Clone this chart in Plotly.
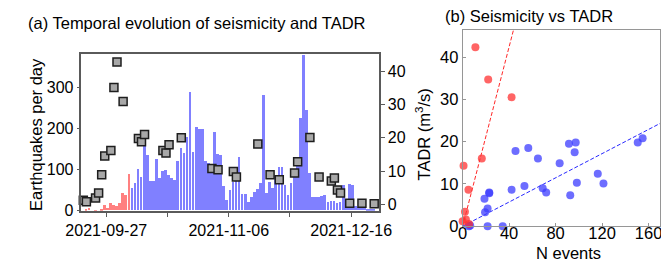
import pandas as pd
import plotly.graph_objects as go

# ---------------- data: panel (a) ----------------
red_days = pd.date_range("2021-09-20", "2021-10-04", freq="D")
red_counts = [4, 5, 0, 1, 0, 3, 13, 6, 19, 14, 11, 17, 43, 38, 89]

blue_days = pd.date_range("2021-10-05", "2021-12-23", freq="D")
blue_counts = [55, 67, 100, 82, 156, 136, 71, 71, 126, 80, 97, 99, 86, 80, 75, 121, 152, 141, 180, 289,
               143, 203, 199, 199, 120, 116, 112, 192, 137, 136, 59, 25, 49, 70, 100, 130, 39, 39, 20, 33,
               45, 52, 68, 282, 43, 70, 55, 87, 106, 106, 63, 38, 67, 87, 110, 224, 379, 245, 90, 33,
               33, 33, 35, 38, 20, 24, 22, 17, 20, 63, 16, 64, 63, 12, 8, 6, 5, 4, 3, 2]

tadr_dates = ["2021-09-19", "2021-09-20", "2021-09-23", "2021-09-24", "2021-09-25", "2021-09-26",
              "2021-09-28", "2021-09-29", "2021-09-30", "2021-10-02", "2021-10-07", "2021-10-08",
              "2021-10-09", "2021-10-15", "2021-10-16", "2021-10-17", "2021-10-21", "2021-10-31",
              "2021-11-02", "2021-11-07", "2021-11-08", "2021-11-15", "2021-11-19", "2021-11-22",
              "2021-11-27", "2021-11-28", "2021-12-02", "2021-12-05", "2021-12-09", "2021-12-10",
              "2021-12-11", "2021-12-12", "2021-12-15", "2021-12-19", "2021-12-23"]
tadr_values = [1.2, 0.8, 1.9, 3.4, 8.9, 14.5, 16.2, 35.1, 42.8, 30.9, 19.8, 18.8,
               21.0, 16.2, 15.4, 17.9, 20.0, 10.8, 10.4, 9.9, 8.2, 18.1, 8.9, 7.4,
               9.4, 12.8, 20.1, 8.2, 7.0, 7.9, 4.3, 3.4, 0.3, 0.3, 0.2]

date_ticks = ["2021-09-27", "2021-11-06", "2021-12-16"]
date_minor_ticks = ["2021-10-17", "2021-11-26"]

# ---------------- data: panel (b) ----------------
red_n = [0.8, 5, 2, 2.8, 0, 5.5, 16.5, 11, 22, 42.1]
red_tadr = [14.3, 8.6, 3.4, 1.6, 1.2, 0.5, 16.0, 42.3, 34.7, 30.5]
blue_n = [5.5, 6.5, 21.5, 34.5, 19.3, 21.5, 18.8, 22.9, 22.9, 42.1, 45.5, 53.2, 56.5,
          64.8, 68.9, 71.9, 83.5, 91.5, 92.6, 96.4, 97.3, 98.3, 116.3, 121.2, 150.7, 154.9]
blue_tadr = [0, 0.2, 0, 0, 3.3, 4.2, 6.5, 8.0, 7.8, 8.6, 17.8, 9.5, 18.5,
             16.0, 9.0, 8.0, 14.9, 19.5, 7.3, 17.5, 19.8, 10.3, 12.4, 10.1, 19.8, 20.8]
red_fit_slope = 1.06
blue_fit_slope = 0.143
fit_x = [0, 60, 170]

FONT = "Liberation Sans, Arial, sans-serif"
half_day = pd.Timedelta(hours=12)
day_ms = 86400000

fig = go.Figure()

fig.add_trace(go.Bar(x=red_days + half_day, y=red_counts, width=day_ms * 0.88,
                     marker=dict(color="rgb(255,128,128)", line=dict(width=0)),
                     xaxis="x", yaxis="y", showlegend=False))
fig.add_trace(go.Bar(x=blue_days + half_day, y=blue_counts, width=day_ms * 0.88,
                     marker=dict(color="rgb(128,128,255)", line=dict(width=0)),
                     xaxis="x", yaxis="y", showlegend=False))
fig.add_trace(go.Scatter(x=pd.to_datetime(tadr_dates) + half_day, y=tadr_values, mode="markers",
                         marker=dict(symbol="square", size=8, color="rgb(168,168,168)",
                                     line=dict(color="rgb(30,30,30)", width=1.5)),
                         xaxis="x", yaxis="y2", showlegend=False, cliponaxis=False))

# panel (b)
fig.add_trace(go.Scatter(x=fit_x, y=[red_fit_slope * v for v in fit_x], mode="lines",
                         line=dict(color="rgb(255,40,40)", width=1, dash="4px,2px"),
                         xaxis="x2", yaxis="y3", showlegend=False))
fig.add_trace(go.Scatter(x=fit_x, y=[blue_fit_slope * v for v in fit_x], mode="lines",
                         line=dict(color="rgb(40,40,255)", width=1, dash="4px,2px"),
                         xaxis="x2", yaxis="y3", showlegend=False))
fig.add_trace(go.Scatter(x=blue_n, y=blue_tadr, mode="markers",
                         marker=dict(size=8, color="rgba(60,60,255,0.75)", line=dict(width=0)),
                         xaxis="x2", yaxis="y3", showlegend=False, cliponaxis=False))
fig.add_trace(go.Scatter(x=red_n, y=red_tadr, mode="markers",
                         marker=dict(size=8, color="rgba(255,50,50,0.75)", line=dict(width=0)),
                         xaxis="x2", yaxis="y3", showlegend=False, cliponaxis=False))

W, H = 669, 262
def px(x): return x / W
def py(y): return 1 - y / H

axis_line = "rgb(90,90,90)"
fig.update_layout(
    width=W, height=H, margin=dict(l=0, r=0, t=0, b=0),
    paper_bgcolor="white", plot_bgcolor="white", barmode="overlay", bargap=0,
    font=dict(family=FONT, size=16, color="black"),
    xaxis=dict(domain=[px(60), px(371)], anchor="y", type="date",
               range=["2021-09-18 21:00", "2021-12-25 01:00"],
               tickmode="array", tickvals=date_ticks, tickformat="%Y-%m-%d",
               ticks="outside", ticklen=4, tickcolor=axis_line, tickfont=dict(size=16),
               minor=dict(tickmode="array", tickvals=date_minor_ticks, ticks="outside",
                          ticklen=4, tickcolor=axis_line, showgrid=False),
               showline=True, linecolor=axis_line, linewidth=1.5, mirror=True,
               showgrid=False, zeroline=False),
    yaxis=dict(domain=[py(210), py(48)], anchor="x", range=[0, 381],
               tickvals=[0, 100, 200, 300], ticks="outside", ticklen=3, tickcolor=axis_line,
               tickfont=dict(size=16), showline=True, linecolor=axis_line, linewidth=1.5,
               showgrid=False, zeroline=False),
    yaxis2=dict(overlaying="y", side="right", anchor="x", range=[-1.95, 45.1],
                tickvals=[0, 10, 20, 30, 40], ticks="outside", ticklen=4, tickcolor=axis_line,
                tickfont=dict(size=16), showline=True, linecolor=axis_line, linewidth=1.5,
                showgrid=False, zeroline=False),
    xaxis2=dict(domain=[px(458.5), px(665)], anchor="y3", range=[0, 170],
                tickvals=[0, 40, 80, 120, 160], ticks="inside", ticklen=3,
                tickcolor="rgb(150,150,150)", tickfont=dict(size=16.5), ticklabelstandoff=-8,
                showline=True, linecolor="rgb(150,150,150)", linewidth=1, mirror=True,
                showgrid=False, zeroline=False),
    yaxis3=dict(domain=[py(226), py(22.7)], anchor="x2", range=[0, 46.4],
                tickvals=[0, 10, 20, 30, 40], ticks="inside", ticklen=3,
                tickcolor="rgb(150,150,150)", tickfont=dict(size=16.5),
                showline=True, linecolor="rgb(150,150,150)", linewidth=1, mirror=True,
                showgrid=False, zeroline=False),
    annotations=[
        dict(text="(a) Temporal evolution of seismicity and TADR", x=px(2), y=py(16),
             xref="paper", yref="paper", xanchor="left", yanchor="middle",
             showarrow=False, font=dict(size=16.5)),
        dict(text="(b) Seismicity vs TADR", x=px(438), y=py(8.5),
             xref="paper", yref="paper", xanchor="left", yanchor="middle",
             showarrow=False, font=dict(size=16.5)),
        dict(text="Earthquakes per day", x=px(12), y=py(131), textangle=-90,
             xref="paper", yref="paper", xanchor="center", yanchor="middle",
             showarrow=False, font=dict(size=16.5)),
        dict(text="TADR (m<sup>3</sup>/s)", x=px(417), y=py(131), textangle=-90,
             xref="paper", yref="paper", xanchor="center", yanchor="middle",
             showarrow=False, font=dict(size=16.5)),
        dict(text="N events", x=px(569.5), y=py(254),
             xref="paper", yref="paper", xanchor="center", yanchor="middle",
             showarrow=False, font=dict(size=16.5)),
    ],
)

fig.write_html("out.html")
